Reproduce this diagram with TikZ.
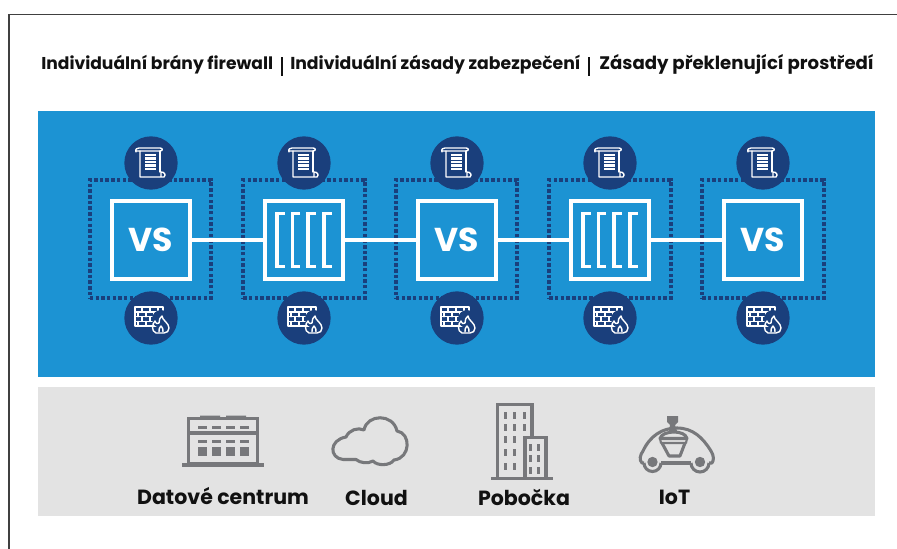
\documentclass[tikz,border=0pt]{standalone}
\usepackage{fontspec}
\setmainfont{Poppins}
\definecolor{panelblue}{HTML}{1C93D3}
\definecolor{navy}{HTML}{1A3F7C}
\definecolor{panelgray}{HTML}{E3E3E3}
\definecolor{icongray}{HTML}{77787B}
\definecolor{inkblack}{HTML}{111111}
\tikzset{
  x=0.75pt,y=-0.75pt,
  title/.style={anchor=base west,inner sep=0pt,text=inkblack,font=\fontsize{#1}{15}\selectfont\bfseries},
  caption/.style={anchor=base,inner sep=0pt,text=inkblack,font=\fontsize{15.4}{17}\selectfont\bfseries},
  hostbox/.style={draw=white,line width=3pt,minimum size=58.5pt,inner sep=0pt,text=white,font=\fontsize{24.8}{26}\selectfont\bfseries},
  zonebox/.style={draw=navy,line width=3.2pt,dash pattern=on 2.6pt off 1.67pt,minimum width=91pt,minimum height=88.5pt,inner sep=0pt},
  badge/.style={circle,fill=navy,minimum size=40pt,inner sep=0pt},
  wire/.style={draw=white,line width=3pt},
  thin icon/.style={draw=white,line width=1.05pt,line join=round,line cap=round},
  grayicon/.style={draw=icongray,line width=2.3pt,line join=miter},
  scrollicon/.pic={
    \draw[thin icon] (-15,-11) .. controls (-16,-14) and (-14,-15) .. (-12,-15) -- (9,-15) .. controls (12,-15) and (12,-12) .. (9,-12) -- (-15,-12) (-15,-11)--(-15,-12);
    \draw[thin icon] (-11,-12) -- (-11,14) -- (13,14) .. controls (15,12) and (14,9) .. (10,9) -- (10,14);
    \draw[thin icon] (9,-12) -- (9,9);
    \foreach \yy in {-8,-4.5,-1,2.5,6}{\draw[white,line width=1.6pt] (-6,\yy) -- (5,\yy);}
  },
  wallicon/.pic={
    \draw[thin icon] (-16,-11) rectangle (12,8);
    \draw[thin icon] (-16,-6) -- (12,-6) (-16,-1.2) -- (12,-1.2) (-16,3.4) -- (12,3.4);
    \draw[thin icon] (-9,-11)--(-9,-6) (-1,-11)--(-1,-6) (7,-11)--(7,-6)
      (-13,-6)--(-13,-1.2) (-5,-6)--(-5,-1.2) (3,-6)--(3,-1.2)
      (-9,-1.2)--(-9,3.4) (-1,-1.2)--(-1,3.4) (7,-1.2)--(7,3.4)
      (-13,3.4)--(-13,8) (-5,3.4)--(-5,8) (3,3.4)--(3,8);
    \path[fill=navy] (10,1) circle (9);
    \draw[thin icon] (5,15) .. controls (0,13) and (1,6) .. (4,3) .. controls (5,6) and (7,6) .. (8,5) .. controls (8,2) and (9,-1) .. (11,-2) .. controls (11,2) and (18,5) .. (18,10) .. controls (18,13) and (16,15) .. (13,15) -- cycle;
    \draw[thin icon] (8,14) .. controls (7,11) and (9,10) .. (10,8) .. controls (11,10) and (13,11) .. (12,14);
  },
  bracketsicon/.pic={
    \foreach \xx in {-27,-11.5,4,20}{
      \draw[white,line width=2.7pt,line cap=butt,line join=miter] (\xx+7.5,-26.5) -- (\xx,-26.5) -- (\xx,26.5) -- (\xx+7.5,26.5);
    }
  }
}
\begin{document}
\begin{tikzpicture}
\useasboundingbox (0,0) rectangle (897,549);
\fill[white] (0,0) rectangle (897,549);
\draw[draw=black!75,line width=1pt] (9,549) -- (9,14.5) -- (897,14.5);

\node[title=12.85] (t1) at (41,70) {Individuální brány firewall};
\node[title=12.95] (t2) at (290,70) {Individuální zásady zabezpečení};
\node[title=13.6] (t3) at (599,70) {Zásady překlenující prostředí};
\fill[inkblack] (281,57.5) rectangle (283,76);
\fill[inkblack] (587.5,57.5) rectangle (589.5,76);

\fill[panelblue] (38,111) rectangle (875,377);
\fill[panelgray] (38,387) rectangle (875,516);

\foreach \i/\cx in {1/150.5,2/304,3/456.5,4/610,5/763}{
  \node[zonebox] (zone\i) at (\cx,239) {};
}
\node[hostbox] (h1) at (151,240) {VS};
\node[hostbox] (h2) at (304,240) {};
\node[hostbox] (h3) at (456.5,240) {VS};
\node[hostbox] (h4) at (610,240) {};
\node[hostbox] (h5) at (763,240) {VS};
\draw[wire] (h1) -- (h2);
\draw[wire] (h2) -- (h3);
\draw[wire] (h3) -- (h4);
\draw[wire] (h4) -- (h5);
\pic at (304,240) {bracketsicon};
\pic at (610,240) {bracketsicon};

\foreach \i/\cx in {1/151,2/304,3/457,4/610,5/763}{
  \node[badge] (doc\i) at (\cx,163) {};
  \node[badge] (fw\i) at (\cx,318) {};
  \pic at (doc\i) {scrollicon};
  \pic at (fw\i) {wallicon};
}

% data centre
\draw[grayicon] (188.5,418.5) rectangle (257.5,464);
\draw[grayicon] (188,433) -- (258,433);
\draw[grayicon,line width=2.8pt] (182,465) -- (264,465);
\fill[icongray] (200,415.5) rectangle (220,418.5) (226,415.5) rectangle (246,418.5);
\foreach \xx in {197.5,212,226,240}{
  \fill[icongray] (\xx,425.5) rectangle +(9,3);
  \fill[icongray] (\xx,439.7) rectangle +(9,3);
  \fill[icongray] (\xx,446.5) rectangle +(9,9);
}
% cloud
\draw[grayicon,line join=round] (343,459.5) .. controls (329,458) and (329,440) .. (346,437) .. controls (349,430) and (358,427) .. (364,430) .. controls (367,414) and (393,413) .. (397,431) .. controls (411,433) and (411,458) .. (394,460) .. controls (390,466) and (377,466) .. (373,461) .. controls (368,464) and (360,463) .. (356,459.5) -- cycle;
% branch
\draw[grayicon] (497.5,478) -- (497.5,404.5) -- (532,404.5) -- (532,437);
\draw[grayicon] (525,478) -- (525,437.5) -- (546,437.5) -- (546,478);
\draw[grayicon,line width=2.8pt] (491,478.5) -- (553,478.5);
\foreach \xx in {505,514,524}{\foreach \yy in {415,427,439,452,466}{
  \fill[icongray] (\xx-1.5,\yy-3.5) rectangle +(3,7);
}}
\foreach \xx in {530,538}{\foreach \yy in {447,458,470}{
  \fill[icongray] (\xx-1.5,\yy-3.5) rectangle +(3,7);
}}
% car
\draw[grayicon,line join=round] (644,463) -- (642,463) .. controls (639,460) and (640,455) .. (643,451) .. controls (650,436) and (662,428) .. (677,428) .. controls (693,428) and (703,438) .. (711,451) .. controls (714,456) and (714,460) .. (712,463) -- (709,463);
\draw[grayicon] (661,463) -- (691,463);
\draw[grayicon] (644,463) arc[start angle=180,end angle=0,radius=8.5];
\draw[grayicon] (691,463) arc[start angle=180,end angle=0,radius=9];
\fill[icongray] (652.5,462) circle (5.2);
\fill[icongray] (700,462) circle (5.2);
\draw[grayicon,line join=round] (660,438.5) .. controls (661,434) and (668,432) .. (674,432) .. controls (680,432) and (686,434) .. (687,438.5) -- cycle;
\draw[grayicon,line width=1.6pt,line join=round] (660,438.5) -- (661,443) -- (686,443) -- (687,438.5);
\draw[grayicon,line join=round] (662,443) -- (669,456) -- (680,456) -- (685,443);
\fill[icongray] (667,416) -- (678,416) -- (678,422) -- (675,425) -- (677,431) -- (669,431) -- (670,425) -- (667,422) -- cycle;

\node[caption] (c1) at (223,504) {Datové centrum};
\node[caption] (c2) at (376.5,505) {Cloud};
\node[caption] (c3) at (524,505) {Pobočka};
\node[caption] (c4) at (674.5,504) {IoT};
\end{tikzpicture}
\end{document}
